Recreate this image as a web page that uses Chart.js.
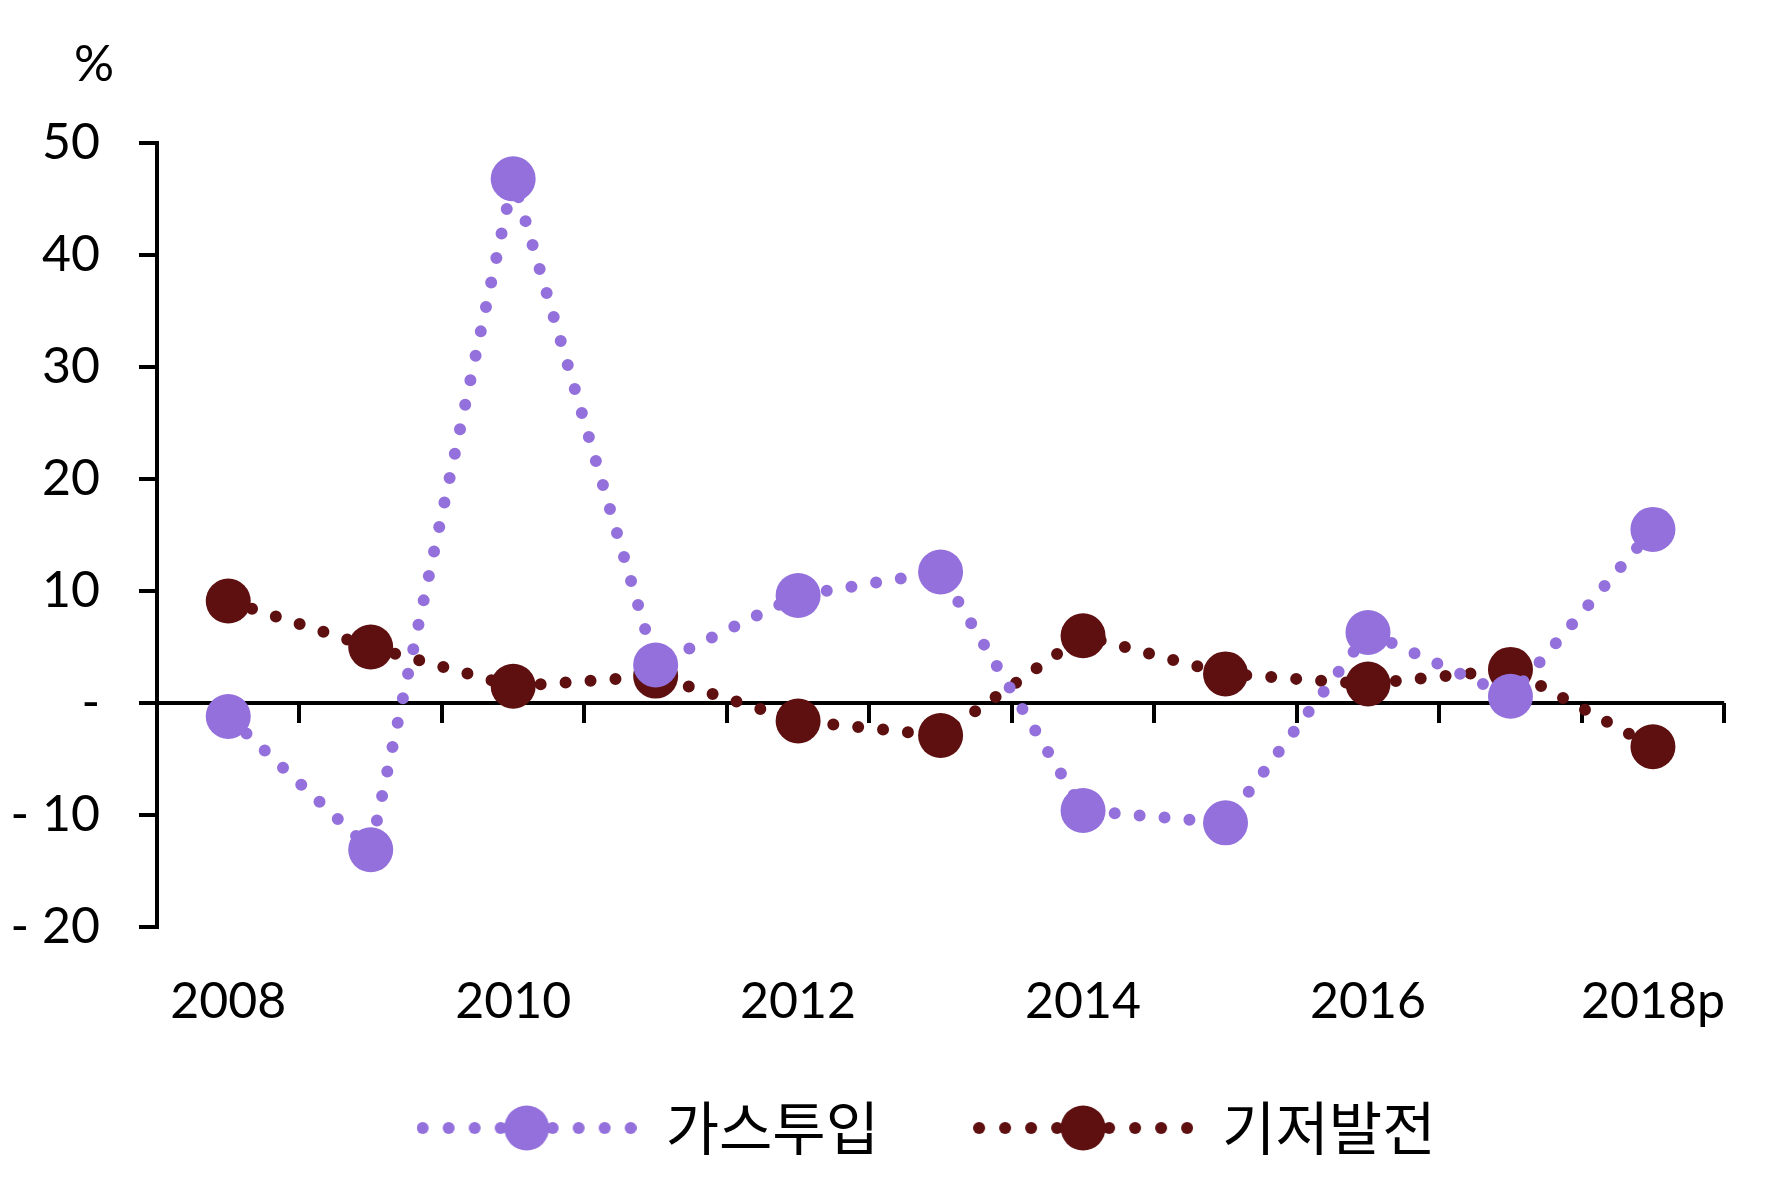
<!DOCTYPE html>
<html>
<head>
<meta charset="utf-8">
<script src="https://cdn.jsdelivr.net/npm/chart.js@4/dist/chart.umd.min.js"></script>
<style>
  html, body { margin: 0; padding: 0; background: #fff; }
  #wrap { width: 1772px; height: 1183px; }
</style>
</head>
<body>
<div id="wrap"><canvas id="chart" width="1772" height="1183"></canvas></div>
<script>
// data
const years = ['2008', '2009', '2010', '2011', '2012', '2013', '2014', '2015', '2016', '2017', '2018p'];
const gasInput = [-1.2, -13.1, 46.8, 3.4, 9.6, 11.7, -9.6, -10.7, 6.3, 0.6, 15.5];
const baseLoad = [9.1, 5.0, 1.5, 2.4, -1.6, -2.9, 6.0, 2.6, 1.7, 3.0, -3.9];
const seriesNames = ['가스투입', '기저발전'];
const yTicks = [-20, -10, 0, 10, 20, 30, 40, 50];

const PURPLE = '#9370DB';
const BROWN = '#5E0F10';

// legend symbol: dotted line with a big marker in the middle
function legendIcon(color) {
    const c = document.createElement('canvas');
    c.width = 220;
    c.height = 48;
    const g = c.getContext('2d');
    g.fillStyle = color;
    for (let k = -4; k <= 4; k++) {
        if (k === 0) continue;
        g.beginPath();
        g.arc(110 + 26 * k, 24, 6, 0, Math.PI * 2);
        g.fill();
    }
    g.beginPath();
    g.arc(110, 24, 22.5, 0, Math.PI * 2);
    g.fill();
    return c;
}
const icons = [legendIcon(PURPLE), legendIcon(BROWN)];

// zero line with tick marks between categories, plus the % unit label
const axisExtras = {
    id: 'axisExtras',
    beforeDatasetsDraw(chart) {
        const { ctx, chartArea, scales } = chart;
        const x = scales.x, y = scales.y;
        const y0 = y.getPixelForValue(0);
        const half = (x.getPixelForValue(1) - x.getPixelForValue(0)) / 2;
        ctx.save();
        ctx.strokeStyle = '#000';
        ctx.lineWidth = 4;
        ctx.beginPath();
        ctx.moveTo(chartArea.left, y0);
        ctx.lineTo(chartArea.right, y0);
        for (let i = 0; i < years.length; i++) {
            const tx = Math.round(x.getPixelForValue(i) + half);
            ctx.moveTo(tx, y0);
            ctx.lineTo(tx, y0 + 20);
        }
        ctx.stroke();
        ctx.restore();
    },
    afterDraw(chart) {
        const { ctx, chartArea, scales } = chart;
        ctx.save();
        ctx.fillStyle = '#000';
        ctx.font = '50px Lato';
        ctx.textAlign = 'center';
        ctx.textBaseline = 'middle';
        ctx.fillText('%', scales.y.left + 94, chartArea.top - 78);
        ctx.restore();
    }
};

const makeSet = (label, data, color) => ({
    label: label,
    data: data,
    borderColor: color,
    backgroundColor: color,
    borderWidth: 12,
    borderDash: [0, 25],
    borderCapStyle: 'round',
    pointRadius: 22.5,
    pointHoverRadius: 22.5,
    pointBorderWidth: 0,
    pointBackgroundColor: color,
    tension: 0,
    fill: false,
    clip: false
});

new Chart(document.getElementById('chart').getContext('2d'), {
    type: 'line',
    data: {
        labels: years,
        datasets: [
            makeSet(seriesNames[0], gasInput, PURPLE),
            makeSet(seriesNames[1], baseLoad, BROWN)
        ]
    },
    options: {
        responsive: false,
        animation: false,
        devicePixelRatio: 1,
        layout: { padding: { top: 143, right: 45, bottom: 16, left: 0 } },
        plugins: {
            tooltip: { enabled: false },
            legend: {
                position: 'bottom',
                fullSize: false,
                labels: {
                    usePointStyle: true,
                    pointStyleWidth: 220,
                    padding: 65,
                    color: '#000',
                    font: { family: '"Noto Sans CJK KR"', size: 58 },
                    generateLabels(chart) {
                        const items = Chart.defaults.plugins.legend.labels.generateLabels(chart);
                        // en space after each name widens the gap between the two entries
                        items.forEach((it, i) => { it.pointStyle = icons[i]; it.text = it.text + '\u2002'; });
                        return items;
                    }
                }
            }
        },
        scales: {
            x: {
                offset: true,
                border: { display: false },
                grid: { display: false, drawTicks: false },
                ticks: {
                    autoSkip: false,
                    maxRotation: 0,
                    padding: 45,
                    color: '#000',
                    font: { family: 'Lato', size: 50 },
                    callback: (v, i) => (i % 2 === 0 ? years[i] : '')
                },
                afterFit(scale) { scale.height = 107; }
            },
            y: {
                min: -20,
                max: 50,
                border: { display: true, color: '#000', width: 4 },
                grid: { drawOnChartArea: false, drawTicks: true, tickLength: 18, color: '#000', lineWidth: 4 },
                afterBuildTicks(scale) { scale.ticks = yTicks.map(v => ({ value: v })); },
                ticks: {
                    padding: 39,
                    color: '#000',
                    font: { family: 'Lato', size: 50 },
                    callback: v => (v === 0 ? '-' : v < 0 ? '- ' + Math.abs(v) : String(v))
                },
                afterFit(scale) { scale.width = 157; }
            }
        }
    },
    plugins: [axisExtras]
});
</script>
</body>
</html>
